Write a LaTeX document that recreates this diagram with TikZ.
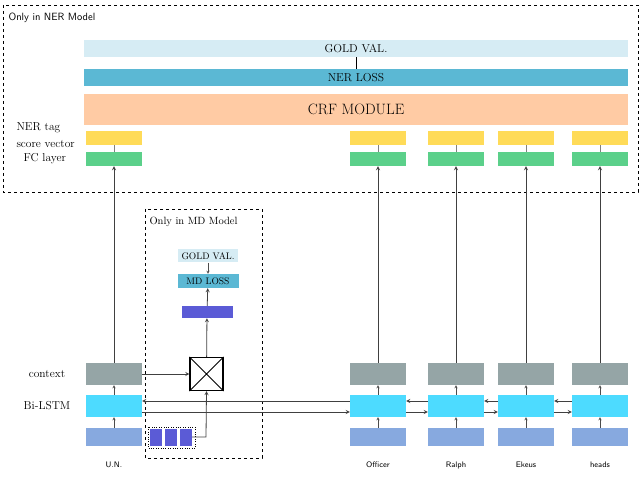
\documentclass[tikz,border=0pt]{standalone}
\begin{document}
\begin{tikzpicture}[x=1pt,y=-1pt,>=stealth,
 box/.style={draw=none,minimum width=56pt,inner sep=0pt},
 lbl/.style={font=\fontsize{11.5}{12}\selectfont},
 wd/.style={font=\sffamily\fontsize{8}{9}\selectfont},
 ar/.style={->,thick,black!75}]
\definecolor{cy}{HTML}{FFDB58}\definecolor{cg}{HTML}{5BD08A}
\definecolor{cgr}{HTML}{95A5A6}\definecolor{ccy}{HTML}{4DDBFF}
\definecolor{cem}{HTML}{87A9DF}\definecolor{ccrf}{HTML}{FFCBA4}
\definecolor{closs}{HTML}{5BB8D4}\definecolor{cgold}{HTML}{D6ECF4}
\definecolor{cpu}{HTML}{5B5BD6}
\useasboundingbox (0,0) rectangle (640,494);
\draw[dashed,thick] (3,5) rectangle (638,192);
\node[anchor=west,font=\sffamily\fontsize{10.5}{11}\selectfont] (t1) at (5,18) {Only in NER Model};
\draw[dashed] (145,209) rectangle (262,458);
\node[anchor=west,font=\fontsize{10.5}{11}\selectfont] (t2) at (146,222) {Only in MD Model};
\node[box,fill=cgold,minimum width=544pt,minimum height=17pt,lbl] (gold) at (356,48.5) {GOLD VAL.};
\node[box,fill=closs,minimum width=544pt,minimum height=17pt,lbl] (loss) at (356,77.5) {NER LOSS};
\node[box,fill=ccrf,minimum width=544pt,minimum height=31pt,font=\fontsize{15}{16}\selectfont] (crf) at (356,109.5) {CRF MODULE};
\draw (gold) -- (loss);
\node[lbl,anchor=west] (l1) at (13,128) {NER tag};
\node[lbl,anchor=west] (l2) at (13,144) {score vector};
\node[lbl,anchor=west] (l3) at (20,159) {FC layer};
\node[lbl] (lc) at (47,374) {context};
\node[lbl] (lb) at (47,406) {Bi-LSTM};
\foreach \n/\x/\w in {a/114/U.N.,b/378/Officer,c/456/Ralph,d/526/Ekeus,e/600/heads}{
 \node[box,fill=cy,minimum height=14pt] (y\n) at (\x,138) {};
 \node[box,fill=cg,minimum height=14pt] (f\n) at (\x,159) {};
 \node[box,fill=cgr,minimum height=22pt] (c\n) at (\x,374) {};
 \node[box,fill=ccy,minimum height=22pt] (b\n) at (\x,406) {};
 \node[box,fill=cem,minimum height=18pt] (e\n) at (\x,437) {};
 \node[wd] (w\n) at (\x,465) {\w};
 \draw[ar] (c\n.north) -- (f\n.south);
 \draw[->,black!70] (e\n.north) -- (b\n.south);
 \draw[->,black!70] (b\n.north) -- (c\n.south);
 \draw[black!50] (f\n.north) -- (y\n.south);
}
% Bi-LSTM links
\foreach \l/\r in {a/b,b/c,c/d,d/e}{
 \draw[ar] ([yshift=5pt]b\r.west) -- ([yshift=5pt]b\l.east);
 \draw[ar] ([yshift=-6pt]b\l.east) -- ([yshift=-6pt]b\r.west);
}
% MD part
\node[box,fill=cgold,minimum width=60pt,minimum height=13pt,font=\fontsize{9.5}{10}\selectfont] (mg) at (208,256) {GOLD VAL.};
\node[box,fill=closs,minimum width=61pt,minimum height=14pt,font=\fontsize{9.5}{10}\selectfont] (ml) at (208,281) {MD LOSS};
\node[box,fill=cpu,minimum width=51pt,minimum height=12pt] (mp) at (207,312) {};
\node[draw,very thick,minimum size=33pt,inner sep=0pt] (x) at (206.5,374) {};
\draw[thick] (x.north west) -- (x.south east) (x.north east) -- (x.south west);
\draw[->,black!70] (mg) -- (ml);
\draw[ar] (mp) -- (ml);
\draw[ar] (x) -- (mp);
\draw[ar] (ca.east) -- (x.west);
\foreach \i in {0,1,2}
 \node[box,fill=cpu,minimum width=12pt,minimum height=17pt] (s\i) at (156+\i*15,437) {};
\draw[dotted] (148,427) rectangle (195,448);
\coordinate (sk) at (206,437);
\draw[ar] (s2.east) -- (sk) -- (x.south);
\end{tikzpicture}
\end{document}
